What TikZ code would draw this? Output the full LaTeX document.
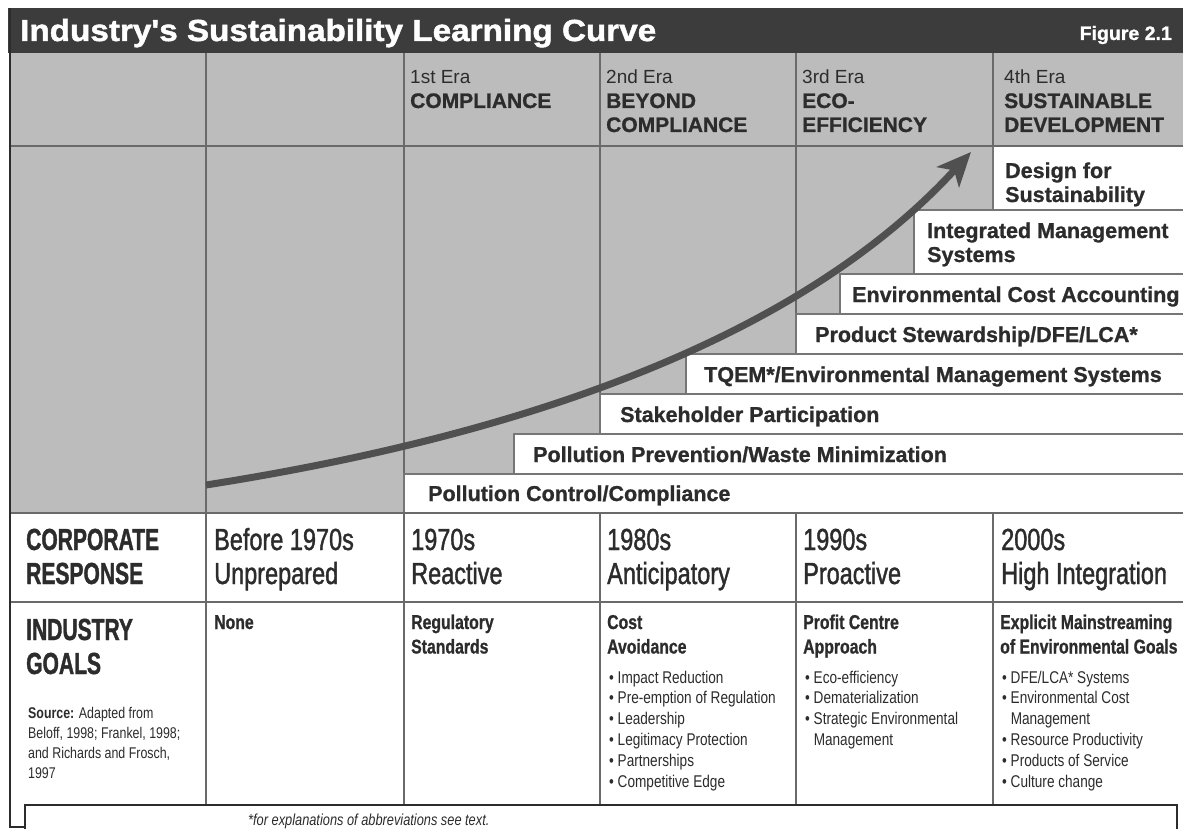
\documentclass[tikz,border=0pt]{standalone}
\usepackage{fontspec}
\setmainfont{Liberation Sans}
\newfontfamily\fwide[FakeStretch=1.09,BoldFeatures={FakeBold=1.5}]{Liberation Sans}
\newfontfamily\fheavy[BoldFeatures={FakeBold=1.0}]{Liberation Sans}
\newfontfamily\fnorm{Liberation Sans}
\newfontfamily\fcondb[FakeStretch=0.69,BoldFeatures={FakeBold=1.2}]{Liberation Sans}
\newfontfamily\fcondr[FakeStretch=0.77,FakeBold=1.3]{Liberation Sans}
\newfontfamily\fcondm[FakeStretch=0.79,BoldFeatures={FakeBold=0.9}]{Liberation Sans}
\newfontfamily\fsmall[FakeStretch=0.80]{Liberation Sans}
\usetikzlibrary{arrows.meta}
\definecolor{titlegray}{HTML}{3C3C3C}
\definecolor{cellgray}{HTML}{BCBCBC}
\definecolor{linegray}{HTML}{6A6A6A}
\definecolor{inkgray}{HTML}{2C2C2C}
\definecolor{boxgray}{HTML}{767676}
\definecolor{arrowgray}{HTML}{505050}
\newcommand{\eranum}[1]{{\fnorm\mdseries\fontsize{19}{24}\selectfont #1}}
% multi-line nodes are anchored at the baseline of their LAST line
\tikzset{
  titletxt/.style={font=\fwide\bfseries\fontsize{30.5}{36}\selectfont, text=white, anchor=base west, inner sep=0pt},
  figtxt/.style={font=\fheavy\bfseries\fontsize{19.5}{24}\selectfont, text=white, anchor=base east, inner sep=0pt},
  eratxt/.style={font=\fheavy\bfseries\fontsize{21}{24}\selectfont, text=inkgray, anchor=base west, align=left, inner sep=0pt},
  stairtxt/.style={font=\fheavy\bfseries\fontsize{21.5}{24}\selectfont, text=inkgray, anchor=base west, align=left, inner sep=0pt},
  bigb/.style={font=\fcondb\bfseries\fontsize{30.5}{34}\selectfont, text=inkgray, anchor=base west, align=left, inner sep=0pt},
  bigr/.style={font=\fcondr\fontsize{30.5}{34}\selectfont, text=inkgray, anchor=base west, align=left, inner sep=0pt},
  goalhd/.style={font=\fcondm\bfseries\fontsize{20}{24.5}\selectfont, text=inkgray, anchor=base west, align=left, inner sep=0pt},
  bullettxt/.style={font=\fsmall\fontsize{17}{20.8}\selectfont, text=inkgray, anchor=base west, align=left, inner sep=0pt},
  srctxt/.style={font=\fsmall\fontsize{15.5}{20}\selectfont, text=inkgray, anchor=base west, align=left, inner sep=0pt},
  fntxt/.style={font=\fsmall\itshape\fontsize{16}{20}\selectfont, text=inkgray, anchor=base west, inner sep=0pt},
  colline/.style={draw=linegray, line width=1.4pt},
  rowline/.style={draw=linegray, line width=1.8pt},
  boxline/.style={draw=boxgray, line width=1.4pt},
  frameline/.style={draw=inkgray, line width=2.6pt},
  curvearrow/.style={draw=arrowgray, line width=7pt, -{Stealth[length=34pt,width=30pt,inset=9pt]}},
}
\begin{document}
\begin{tikzpicture}[x=1pt,y=-1pt]
\useasboundingbox (0,0) rectangle (1183,829);
\fill[white] (0,0) rectangle (1183,829);
% title bar and gray area
\fill[titlegray] (8,8) rectangle (1183,53);
\fill[cellgray] (10,53) rectangle (1183,513);
\foreach \cx in {206,404,600,796,993} {\draw[colline] (\cx,53) -- (\cx,513);}
% staircase boxes
\foreach \xl/\yt/\yb in {993/146/210, 914/210/274, 840/274/314, 796/314/354, 686/354/394, 600/394/434, 514/434/474, 404/474/513} {
  \fill[white] (\xl,\yt) rectangle (1183,\yb);
  \draw[boxline] (1183,\yt) -- (\xl,\yt) -- (\xl,\yb);
}
\draw[rowline] (10,146) -- (1183,146);
% learning curve arrow
\coordinate (cs) at (206,485);
\coordinate (ce) at (971,152);
\draw[curvearrow] (cs) .. controls (480,442) and (785,355) .. (ce);
% lower table
\draw[rowline] (10,513) -- (1183,513);
\draw[rowline] (10,602) -- (1183,602);
\foreach \cx in {206,404,600,796,993} {\draw[colline] (\cx,513) -- (\cx,805);}
\draw[frameline] (25,829) -- (25,805) -- (1177,805) -- (1177,829);
\draw[frameline] (10,8) -- (10,827) -- (25,827);
% title texts
\node[titletxt] (title) at (20,41) {Industry's Sustainability Learning Curve};
\node[figtxt] (fig) at (1172,40) {Figure 2.1};
% era headers
\node[eratxt] (era1) at (410,108) {\eranum{1st Era}\\COMPLIANCE};
\node[eratxt] (era2) at (606,132) {\eranum{2nd Era}\\BEYOND\\COMPLIANCE};
\node[eratxt] (era3) at (802,132) {\eranum{3rd Era}\\ECO-\\EFFICIENCY};
\node[eratxt] (era4) at (1004,132) {\eranum{4th Era}\\SUSTAINABLE\\DEVELOPMENT};
% staircase texts
\node[stairtxt] (s8) at (1005,202) {Design for\\Sustainability};
\node[stairtxt] (s7) at (927,262) {Integrated Management\\Systems};
\node[stairtxt] (s6) at (852,302) {Environmental Cost Accounting};
\node[stairtxt] (s5) at (815,342) {Product Stewardship/DFE/LCA*};
\node[stairtxt] (s4) at (704,382) {TQEM*/Environmental Management Systems};
\node[stairtxt] (s3) at (620,422) {Stakeholder Participation};
\node[stairtxt] (s2) at (533,462) {Pollution Prevention/Waste Minimization};
\node[stairtxt] (s1) at (428,501) {Pollution Control/Compliance};
% corporate response row
\node[bigb] (cr1) at (26,584) {CORPORATE\\RESPONSE};
\node[bigr] (cr2) at (214,584) {Before 1970s\\Unprepared};
\node[bigr] (cr3) at (411,584) {1970s\\Reactive};
\node[bigr] (cr4) at (607,584) {1980s\\Anticipatory};
\node[bigr] (cr5) at (803,584) {1990s\\Proactive};
\node[bigr] (cr6) at (1001,584) {2000s\\High Integration};
% industry goals row
\node[bigb] (ig1) at (26,674) {INDUSTRY\\GOALS};
\node[srctxt] (src) at (28,778) {{\bfseries Source:} Adapted from\\Beloff, 1998; Frankel, 1998;\\and Richards and Frosch,\\1997};
\node[goalhd] (ig2) at (214,629) {None};
\node[goalhd] (ig3) at (411,653.5) {Regulatory\\Standards};
\node[goalhd] (ig4) at (607,653.5) {Cost\\Avoidance};
\node[bullettxt] (ig4b) at (609,787) {\textbullet\ Impact Reduction\\\textbullet\ Pre-emption of Regulation\\\textbullet\ Leadership\\\textbullet\ Legitimacy Protection\\\textbullet\ Partnerships\\\textbullet\ Competitive Edge};
\node[goalhd] (ig5) at (803,653.5) {Profit Centre\\Approach};
\node[bullettxt] (ig5b) at (805,745.4) {\textbullet\ Eco-efficiency\\\textbullet\ Dematerialization\\\textbullet\ Strategic Environmental\\\phantom{\textbullet\ }Management};
\node[goalhd] (ig6) at (1000,653.5) {Explicit Mainstreaming\\of Environmental Goals};
\node[bullettxt] (ig6b) at (1002,787) {\textbullet\ DFE/LCA* Systems\\\textbullet\ Environmental Cost\\\phantom{\textbullet\ }Management\\\textbullet\ Resource Productivity\\\textbullet\ Products of Service\\\textbullet\ Culture change};
% footnote
\node[fntxt] (fn) at (248,825) {*for explanations of abbreviations see text.};
\end{tikzpicture}
\end{document}
